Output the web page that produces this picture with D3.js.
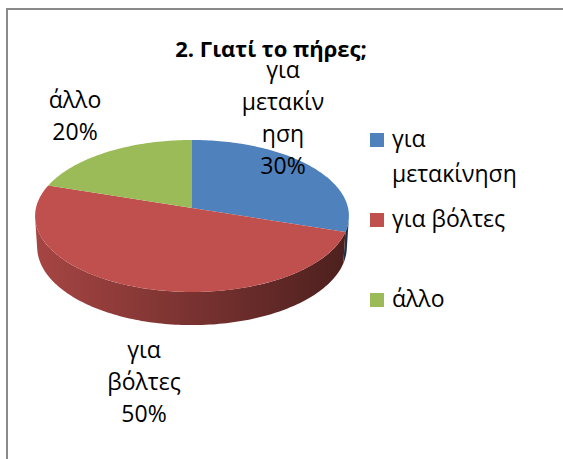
<!DOCTYPE html>
<html>
<head>
<meta charset="utf-8">
<script src="https://cdn.jsdelivr.net/npm/d3@7"></script>
<style>
body { margin: 0; background: #fff; }
svg text { font-family: "Open Sans", sans-serif; fill: #000; }
</style>
</head>
<body>
<svg id="chart" width="563" height="459"></svg>
<script>
var title = '2. Γιατί το πήρες;'
var categories = ['για μετακίνηση', 'για βόλτες', 'άλλο']
var values = [30, 50, 20]
var colors = ['#4f81bd', '#c0504d', '#9bbb59']
// how the category names wrap in the data labels / legend
var labelWrap = [['για', 'μετακίν', 'ηση'], ['για', 'βόλτες'], ['άλλο']]
var legendWrap = [['για', 'μετακίνηση'], ['για βόλτες'], ['άλλο']]

// layout
var labelPos = [{x: 283, y: 78}, {x: 144, y: 358}, {x: 75, y: 108}]
var legendPos = [{y: 133, base: [147, 182]}, {y: 213, base: [227]}, {y: 293, base: [307]}]
var lineH = 32

var svg = d3.select('#chart')

// frame
svg.append('rect').attr('x', 7).attr('y', 9).attr('width', 700).attr('height', 600)
	.attr('fill', 'none').attr('stroke', '#8a8a8a').attr('stroke-width', 2)

svg.append('text').attr('x', 271).attr('y', 57).attr('text-anchor', 'middle')
	.style('font-weight', 'bold').style('font-size', '22px').text(title)

// 3d pie, simple perspective camera
var cx = 192, cy = 208
var f = 1303, D = 8.35, elev = 28.8 * Math.PI / 180, depth = 0.228
var se = Math.sin(elev), ce = Math.cos(elev)

function project(r, a, y) {
	var X = r * Math.sin(a), Z = r * Math.cos(a)
	var ry = y - D * se, rz = Z + D * ce
	var yc = ry * ce + rz * se
	var zc = -ry * se + rz * ce
	return [cx + f * X / zc, cy - f * yc / zc]
}

function arcPoints(a0, a1, y) {
	var pts = []
	var n = Math.max(2, Math.ceil((a1 - a0) / 0.02))
	for (var i = 0; i <= n; i++) {
		pts.push(project(1, a0 + (a1 - a0) * i / n, y))
	}
	return pts
}

var color = d3.scaleOrdinal().domain(categories).range(colors)
var pie = d3.pie().sort(null).value(function(d) { return d.value })
var data = categories.map(function(c, i) { return {name: c, value: values[i]} })
var arcs = pie(data)
var total = d3.sum(values)

var line = d3.line()
var tangent = Math.acos(-1 / (D * ce))

var defs = svg.append('defs')
var xLeft = project(1, 3 * Math.PI / 2, 0)[0]
var xRight = project(1, Math.PI / 2, 0)[0]

// sides
arcs.forEach(function(d, i) {
	var s = Math.max(d.startAngle, tangent)
	var e = Math.min(d.endAngle, 2 * Math.PI - tangent)
	if (e <= s) return
	var gid = 'side' + i
	var base = d3.color(color(d.data.name))
	var g = defs.append('linearGradient').attr('id', gid)
		.attr('gradientUnits', 'userSpaceOnUse')
		.attr('x1', xLeft).attr('x2', xRight).attr('y1', 0).attr('y2', 0)
	g.append('stop').attr('offset', 0).attr('stop-color', base.darker(0.4))
	g.append('stop').attr('offset', 1).attr('stop-color', base.darker(2.6))
	var pts = arcPoints(s, e, 0).concat(arcPoints(s, e, -depth).reverse())
	svg.append('path').attr('d', line(pts) + 'Z').attr('fill', 'url(#' + gid + ')')
})

// tops
arcs.forEach(function(d) {
	var pts = [project(0, 0, 0)].concat(arcPoints(d.startAngle, d.endAngle, 0))
	svg.append('path').attr('d', line(pts) + 'Z').attr('fill', color(d.data.name))
})

// data labels
arcs.forEach(function(d, i) {
	var lines = labelWrap[i].concat([Math.round(d.data.value / total * 100) + '%'])
	var t = svg.append('text').attr('text-anchor', 'middle').style('font-size', '23px')
	lines.forEach(function(l, j) {
		t.append('tspan').attr('x', labelPos[i].x).attr('y', labelPos[i].y + j * lineH).text(l)
	})
})

// legend
categories.forEach(function(c, i) {
	svg.append('rect').attr('x', 370).attr('y', legendPos[i].y).attr('width', 14).attr('height', 14)
		.attr('fill', color(c))
	var t = svg.append('text').style('font-size', '23px')
	legendWrap[i].forEach(function(l, j) {
		t.append('tspan').attr('x', 392).attr('y', legendPos[i].base[j]).text(l)
	})
})
</script>
</body>
</html>
